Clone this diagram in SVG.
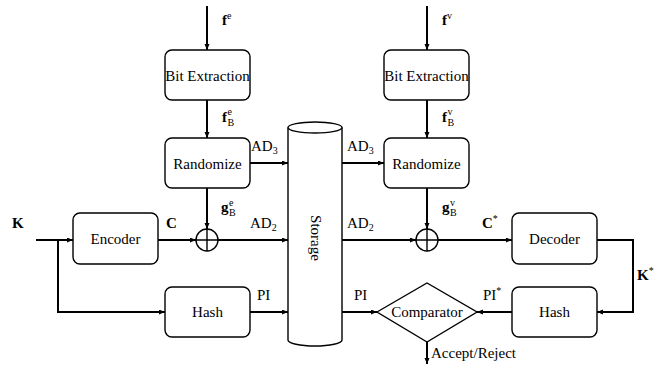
<svg xmlns="http://www.w3.org/2000/svg" width="672" height="366" viewBox="0 0 672 366" font-family="Liberation Serif, Times New Roman, serif">
<defs>
<marker id="ah" markerUnits="userSpaceOnUse" markerWidth="7" markerHeight="6" refX="6" refY="2.5" orient="auto">
<path d="M0,0 L6,2.5 L0,5 z" fill="#000"/>
</marker>
<style>
.box{fill:#fff;stroke:#000;stroke-width:1.4}
.c{fill:none;stroke:#000;stroke-width:2}
.t{font-family:'Liberation Serif','Times New Roman',serif;font-size:15px;fill:#000}
.m{text-anchor:middle}
.b{font-weight:bold}
.s{font-size:10px}
</style>
</defs>
<rect width="672" height="366" fill="#fff"/>
<g id="connectors">
<line class="c" x1="207" y1="6" x2="207" y2="50" marker-end="url(#ah)"/>
<line class="c" x1="207" y1="100" x2="207" y2="138" marker-end="url(#ah)"/>
<line class="c" x1="207" y1="188" x2="207" y2="229" marker-end="url(#ah)"/>
<line class="c" x1="427" y1="6" x2="427" y2="50" marker-end="url(#ah)"/>
<line class="c" x1="427" y1="100" x2="427" y2="138" marker-end="url(#ah)"/>
<line class="c" x1="427" y1="188" x2="427" y2="229" marker-end="url(#ah)"/>
<line class="c" x1="250" y1="163" x2="288" y2="163" marker-end="url(#ah)"/>
<line class="c" x1="342" y1="163" x2="384" y2="163" marker-end="url(#ah)"/>
<line class="c" x1="36" y1="240" x2="73" y2="240" marker-end="url(#ah)"/>
<polyline class="c" points="58,240 58,312 165,312" marker-end="url(#ah)"/>
<line class="c" x1="158" y1="240" x2="196" y2="240" marker-end="url(#ah)"/>
<line class="c" x1="218" y1="240" x2="288" y2="240" marker-end="url(#ah)"/>
<line class="c" x1="250" y1="312" x2="288" y2="312" marker-end="url(#ah)"/>
<line class="c" x1="342" y1="240" x2="416" y2="240" marker-end="url(#ah)"/>
<line class="c" x1="438" y1="240" x2="512" y2="240" marker-end="url(#ah)"/>
<polyline class="c" points="597,240 633,240 633,312 597,312" marker-end="url(#ah)"/>
<line class="c" x1="342" y1="312" x2="377" y2="312" marker-end="url(#ah)"/>
<line class="c" x1="512" y1="312" x2="477" y2="312" marker-end="url(#ah)"/>
<line class="c" x1="427" y1="342" x2="427" y2="364" marker-end="url(#ah)"/>
</g>
<g id="bitext-e"><rect class="box" x="165" y="50" width="85" height="50" rx="7"/><text class="t m" x="207.5" y="80.5">Bit Extraction</text></g>
<g id="randomize-e"><rect class="box" x="165" y="138" width="85" height="50" rx="7"/><text class="t m" x="207.5" y="168.5">Randomize</text></g>
<g id="bitext-v"><rect class="box" x="384" y="50" width="85" height="50" rx="7"/><text class="t m" x="426.5" y="80.5">Bit Extraction</text></g>
<g id="randomize-v"><rect class="box" x="384" y="138" width="85" height="50" rx="7"/><text class="t m" x="426.5" y="168.5">Randomize</text></g>
<g id="encoder"><rect class="box" x="73" y="213" width="85" height="51" rx="7"/><text class="t m" x="115.5" y="244">Encoder</text></g>
<g id="hash-e"><rect class="box" x="165" y="287" width="85" height="50" rx="7"/><text class="t m" x="207.5" y="317">Hash</text></g>
<g id="decoder"><rect class="box" x="512" y="213" width="85" height="51" rx="7"/><text class="t m" x="554.5" y="244">Decoder</text></g>
<g id="hash-v"><rect class="box" x="512" y="287" width="85" height="50" rx="7"/><text class="t m" x="554.5" y="317">Hash</text></g>
<g id="xor-e"><circle cx="207" cy="240" r="11" fill="#fff" stroke="#000" stroke-width="1.4"/><path d="M196,240 H218 M207,229 V251" stroke="#000" stroke-width="1.4"/></g>
<g id="xor-v"><circle cx="427" cy="240" r="11" fill="#fff" stroke="#000" stroke-width="1.4"/><path d="M416,240 H438 M427,229 V251" stroke="#000" stroke-width="1.4"/></g>
<g id="storage">
<path d="M288,127.5 V340 A27,6 0 0 0 342,340 V127.5" fill="#fff" stroke="#000" stroke-width="1.4"/>
<ellipse cx="315" cy="127.5" rx="27" ry="5.5" fill="#fff" stroke="#000" stroke-width="1.4"/>
<text class="t m" transform="translate(311,238) rotate(90)" x="0" y="0">Storage</text>
</g>
<g id="comparator"><polygon points="377,312 427,283 477,312 427,342" fill="#fff" stroke="#000" stroke-width="1.4"/><text class="t m" x="427" y="317">Comparator</text></g>
<g id="labels">
<text class="t" x="222" y="25"><tspan class="b">f</tspan><tspan class="s" dy="-6">e</tspan></text>
<text class="t" x="222" y="122"><tspan class="b">f</tspan><tspan class="s" x="227.5" dy="-7">e</tspan><tspan class="s" x="227.5" dy="11">B</tspan></text>
<text class="t" x="442" y="25"><tspan class="b">f</tspan><tspan class="s" dy="-6">v</tspan></text>
<text class="t" x="442" y="122"><tspan class="b">f</tspan><tspan class="s" x="447.5" dy="-7">v</tspan><tspan class="s" x="447.5" dy="11">B</tspan></text>
<text class="t" x="251" y="151">AD<tspan class="s" dy="3">3</tspan></text>
<text class="t" x="347" y="151">AD<tspan class="s" dy="3">3</tspan></text>
<text class="t b" x="12" y="228">K</text>
<text class="t b" x="166" y="228">C</text>
<text class="t" x="221" y="212"><tspan class="b">g</tspan><tspan class="s" x="229" dy="-6">e</tspan><tspan class="s" x="229" dy="10">B</tspan></text>
<text class="t" x="442" y="212"><tspan class="b">g</tspan><tspan class="s" x="450" dy="-6">v</tspan><tspan class="s" x="450" dy="10">B</tspan></text>
<text class="t" x="250" y="228">AD<tspan class="s" dy="3">2</tspan></text>
<text class="t" x="347" y="228">AD<tspan class="s" dy="3">2</tspan></text>
<text class="t" x="482" y="228"><tspan class="b">C</tspan><tspan class="s" dy="-6">*</tspan></text>
<text class="t" x="637" y="280"><tspan class="b">K</tspan><tspan class="s" dy="-6">*</tspan></text>
<text class="t" x="257" y="300">PI</text>
<text class="t" x="354" y="300">PI</text>
<text class="t" x="483" y="300">PI<tspan class="s" dy="-6">*</tspan></text>
<text class="t" x="431" y="358">Accept/Reject</text>
</g>
</svg>
